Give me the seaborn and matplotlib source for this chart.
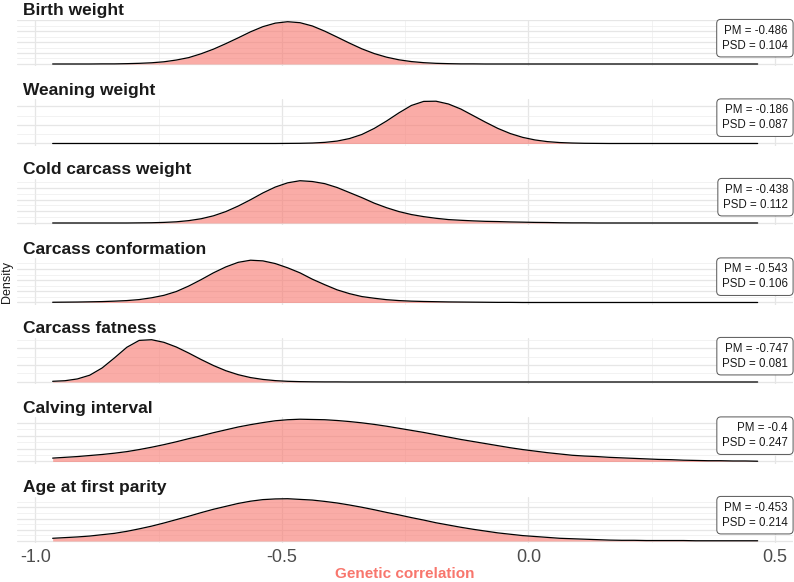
import numpy as np
import matplotlib.pyplot as plt
import seaborn as sns
from matplotlib.ticker import MaxNLocator, AutoMinorLocator

sns.set_theme(style="whitegrid")
plt.rcParams['font.family'] = ['Liberation Sans', 'DejaVu Sans']
plt.rcParams['axes.unicode_minus'] = False

traits = ["Birth weight", "Weaning weight", "Cold carcass weight",
          "Carcass conformation", "Carcass fatness", "Calving interval",
          "Age at first parity"]
pm = [-0.486, -0.186, -0.438, -0.543, -0.747, -0.4, -0.453]
psd = [0.104, 0.087, 0.112, 0.106, 0.081, 0.247, 0.214]

# density curves, common x grid from -0.965 to 0.465
grid = np.linspace(-0.965, 0.465, 58)

birth_weight = [0.00, 0.00, 0.00, 0.00, 0.01, 0.01, 0.03, 0.06, 0.11, 0.20,
                0.36, 0.58, 0.93, 1.35, 1.85, 2.38, 2.93, 3.40, 3.72, 3.85,
                3.76, 3.46, 2.99, 2.45, 1.90, 1.38, 0.95, 0.62, 0.38, 0.22,
                0.12, 0.06, 0.03, 0.01, 0.01, 0, 0, 0, 0, 0,
                0, 0, 0, 0, 0, 0, 0, 0, 0, 0,
                0, 0, 0, 0, 0, 0, 0, 0]
weaning_weight = [0, 0, 0, 0, 0, 0, 0, 0, 0, 0,
                  0, 0, 0, 0, 0, 0, 0, 0, 0.00, 0.01,
                  0.02, 0.05, 0.12, 0.26, 0.53, 0.97, 1.62, 2.42, 3.30, 4.09,
                  4.53, 4.55, 4.25, 3.71, 3.00, 2.29, 1.62, 1.07, 0.66, 0.38,
                  0.20, 0.10, 0.05, 0.02, 0.01, 0, 0, 0, 0, 0,
                  0, 0, 0, 0, 0, 0, 0, 0]
cold_carcass = [0, 0, 0, 0, 0, 0, 0.00, 0.01, 0.02, 0.05,
                0.10, 0.20, 0.36, 0.61, 0.97, 1.44, 1.98, 2.56, 3.06, 3.42,
                3.60, 3.53, 3.35, 3.02, 2.59, 2.16, 1.69, 1.30, 0.97, 0.72,
                0.54, 0.40, 0.29, 0.23, 0.18, 0.14, 0.12, 0.09, 0.07, 0.05,
                0.04, 0.02, 0.01, 0.01, 0, 0, 0, 0, 0, 0,
                0, 0, 0, 0, 0, 0, 0, 0]
conformation = [0.02, 0.03, 0.04, 0.06, 0.08, 0.12, 0.17, 0.26, 0.42, 0.64,
                0.98, 1.47, 2.04, 2.65, 3.18, 3.59, 3.78, 3.72, 3.48, 3.10,
                2.65, 2.08, 1.59, 1.13, 0.79, 0.53, 0.38, 0.25, 0.17, 0.12,
                0.09, 0.07, 0.05, 0.04, 0.03, 0.02, 0.01, 0.01, 0, 0,
                0, 0, 0, 0, 0, 0, 0, 0, 0, 0,
                0, 0, 0, 0, 0, 0, 0, 0]
fatness = [0.08, 0.15, 0.36, 0.80, 1.65, 2.84, 4.09, 4.90, 4.98, 4.67,
           4.12, 3.41, 2.65, 1.94, 1.33, 0.86, 0.52, 0.30, 0.16, 0.08,
           0.04, 0.02, 0.01, 0.01, 0, 0, 0, 0, 0, 0,
           0, 0, 0, 0, 0, 0, 0, 0, 0, 0,
           0, 0, 0, 0, 0, 0, 0, 0, 0, 0,
           0, 0, 0, 0, 0, 0, 0, 0]
calving_interval = [0.13, 0.16, 0.19, 0.23, 0.27, 0.32, 0.38, 0.46, 0.55, 0.65,
                    0.76, 0.88, 0.99, 1.11, 1.22, 1.33, 1.42, 1.50, 1.57, 1.61,
                    1.63, 1.62, 1.61, 1.58, 1.54, 1.49, 1.43, 1.36, 1.28, 1.20,
                    1.12, 1.03, 0.94, 0.85, 0.77, 0.69, 0.61, 0.53, 0.46, 0.40,
                    0.34, 0.29, 0.24, 0.21, 0.19, 0.16, 0.14, 0.12, 0.10, 0.08,
                    0.07, 0.05, 0.04, 0.03, 0.03, 0.02, 0.02, 0.01]
age_first_parity = [0.12, 0.15, 0.18, 0.22, 0.28, 0.34, 0.43, 0.54, 0.66, 0.80,
                    0.95, 1.10, 1.26, 1.41, 1.54, 1.67, 1.77, 1.84, 1.87, 1.88,
                    1.85, 1.82, 1.76, 1.69, 1.60, 1.50, 1.39, 1.27, 1.16, 1.04,
                    0.93, 0.81, 0.71, 0.61, 0.52, 0.44, 0.36, 0.30, 0.24, 0.20,
                    0.16, 0.12, 0.10, 0.08, 0.06, 0.04, 0.03, 0.03, 0.02, 0.02,
                    0.02, 0.02, 0.01, 0.01, 0.01, 0.01, 0.01, 0.01]

curves = [birth_weight, weaning_weight, cold_carcass, conformation,
          fatness, calving_interval, age_first_parity]

fill_col = "#F8766D"
W, H = 794, 582
left_px, right_px = 17.4, 792.9
panel_h = 46.5

fig = plt.figure(figsize=(W / 100, H / 100), dpi=100)

for i, (name, dens) in enumerate(zip(traits, curves)):
    top = 19.6 + 79.5 * i
    ax = fig.add_axes([left_px / W, 1 - (top + panel_h) / H,
                       (right_px - left_px) / W, panel_h / H])
    dens = np.array(dens)
    ax.fill_between(grid, dens, color=fill_col, alpha=0.6, lw=0)
    sns.lineplot(x=grid, y=dens, ax=ax, color="black", lw=0.9)

    ymax = dens.max()
    ax.set_ylim(-0.05 * ymax, 1.05 * ymax)
    ax.set_xlim(-1.0365, 0.5365)
    ax.set_xticks([-1.0, -0.5, 0.0, 0.5])
    ax.set_xticks([-0.75, -0.25, 0.25], minor=True)
    ax.yaxis.set_major_locator(MaxNLocator(nbins=5, steps=[1, 2, 2.5, 5, 10]))
    ax.yaxis.set_minor_locator(AutoMinorLocator(2))
    ax.grid(which="major", color="#E6E6E6", lw=0.9)
    ax.grid(which="minor", color="#EDEDED", lw=0.5)
    ax.set_axisbelow(True)
    for s in ax.spines.values():
        s.set_visible(False)
    ax.set_xlabel("")
    ax.set_ylabel("")
    ax.tick_params(which="both", length=0, labelleft=False)
    if i < len(traits) - 1:
        ax.tick_params(labelbottom=False)
    else:
        ax.set_xticklabels(["-1.0", "-0.5", "0.0", "0.5"])
        ax.tick_params(axis="x", labelsize=13, labelcolor="#4D4D4D", pad=4)

    fig.text(23 / W, 1 - (top - 4.6) / H, name, fontsize=12.5,
             fontweight="bold", color="#1A1A1A", ha="left", va="baseline")

    ax.annotate(f"PM = {pm[i]}\nPSD = {psd[i]}", xy=(1, 1),
                xycoords="axes fraction", xytext=(-5, -5),
                textcoords="offset pixels", ha="right", va="top",
                multialignment="right", fontsize=8.3, linespacing=1.35,
                color="#1A1A1A",
                bbox=dict(boxstyle="round,pad=0.45,rounding_size=0.35",
                          fc="white", ec="#555555", lw=0.7))

fig.text(7 / W, 1 - 282 / H, "Density", rotation=90, fontsize=9,
         ha="center", va="center", color="#1A1A1A")
fig.text((left_px + right_px) / 2 / W, 1 - 574 / H, "Genetic correlation",
         fontsize=11, fontweight="bold", color=fill_col,
         ha="center", va="center")

fig.savefig("out.png", dpi=100)
